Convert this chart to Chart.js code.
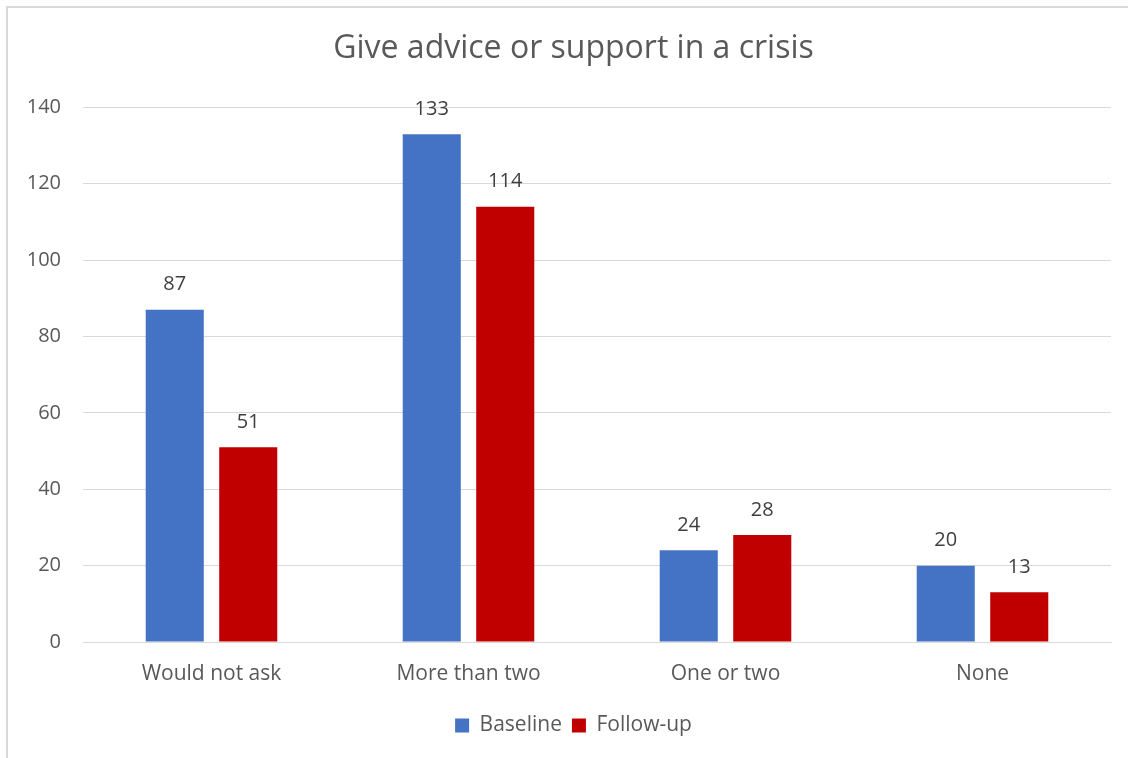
<!DOCTYPE html>
<html>
<head>
<meta charset="utf-8">
<script src="https://cdn.jsdelivr.net/npm/chart.js@4.4.1/dist/chart.umd.min.js"></script>
<style>
  html, body { margin: 0; padding: 0; background: #fff; overflow: hidden; }
  #wrap { position: relative; width: 1128px; height: 758px; }
  #frame { position: absolute; left: 6px; top: 6px; width: 1140px; height: 780px; border: 2px solid #d9d9d9; box-sizing: border-box; }
  canvas { position: absolute; left: 0; top: 0; }
</style>
</head>
<body>
<div id="wrap">
  <div id="frame"></div>
  <canvas id="chart" width="1128" height="758"></canvas>
</div>
<script>
// Answers per category, at baseline and at follow-up
const categories = ["Would not ask", "More than two", "One or two", "None"];
const baseline = [87, 133, 24, 20];
const followUp = [51, 114, 28, 13];
const yTicks = [0, 20, 40, 60, 80, 100, 120, 140];

const FONT = "'Open Sans', Lato, sans-serif";

// writes each bar's value just above it
const valueLabels = {
  id: 'valueLabels',
  afterDatasetsDraw(chart) {
    const ctx = chart.ctx;
    ctx.save();
    ctx.font = "20px " + FONT;
    ctx.fillStyle = "#404040";
    ctx.textAlign = "center";
    ctx.textBaseline = "middle";
    chart.data.datasets.forEach((ds, i) => {
      chart.getDatasetMeta(i).data.forEach((bar, j) => {
        ctx.fillText(ds.data[j], bar.x, bar.y - 25);
      });
    });
    ctx.restore();
  }
};

// title and legend are centred a bit right of the canvas middle
const centreShift = {
  id: 'centreShift',
  afterLayout(chart) {
    if (chart.titleBlock) chart.titleBlock.left = 36;
    if (chart.legend) chart.legend.left = 36;
  }
};

new Chart(document.getElementById('chart'), {
  type: 'bar',
  data: {
    labels: categories,
    datasets: [
      { label: 'Baseline', data: baseline, backgroundColor: '#4472C4' },
      { label: 'Follow-up', data: followUp, backgroundColor: '#C00000' }
    ]
  },
  options: {
    responsive: false,
    animation: false,
    layout: { padding: { left: 0, right: 17, top: 10, bottom: 12 } },
    datasets: { bar: { categoryPercentage: 0.572, barPercentage: 0.79 } },
    plugins: {
      title: {
        display: true,
        text: 'Give advice or support in a crisis',
        color: '#595959',
        font: { family: FONT, size: 32, weight: 'normal' },
        padding: { top: 20, bottom: 39 }
      },
      legend: {
        position: 'bottom',
        labels: {
          color: '#595959',
          font: { family: FONT, size: 21 },
          boxWidth: 14,
          boxHeight: 14,
          padding: 10
        }
      },
      tooltip: { enabled: false }
    },
    scales: {
      x: {
        afterFit(scale) { scale.height = 63; },
        grid: { display: false },
        border: { color: '#d9d9d9', width: 1 },
        ticks: { color: '#595959', font: { family: FONT, size: 21 }, padding: 11 }
      },
      y: {
        min: 0,
        max: 140,
        afterBuildTicks(scale) { scale.ticks = yTicks.map(v => ({ value: v })); },
        afterFit(scale) { scale.width = 83; },
        grid: { color: '#d9d9d9', drawTicks: false },
        border: { display: false },
        ticks: { color: '#595959', font: { family: FONT, size: 20 }, padding: 22 }
      }
    }
  },
  plugins: [valueLabels, centreShift]
});
</script>
</body>
</html>
